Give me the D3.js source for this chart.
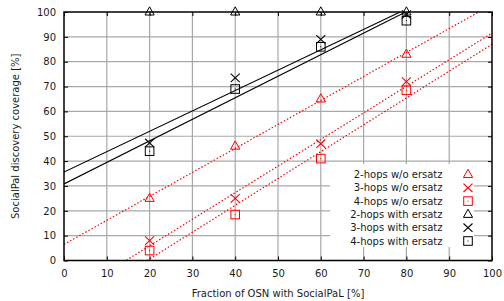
<!DOCTYPE html>
<html>
<head>
<meta charset="utf-8">
<script src="https://cdn.jsdelivr.net/npm/d3@7"></script>
<style>
body { margin:0; background:#fff; }
svg text { font-family:"DejaVu Sans", sans-serif; font-size:10px; fill:#1a1a1a; }
</style>
</head>
<body>
<svg id="chart"></svg>
<script>
// fraction of OSN with SocialPaL
var fractions = [20, 40, 60, 80];

// coverage [%] per series
var hops2NoErsatz = [25, 46, 65, 83];
var hops3NoErsatz = [8, 25, 47, 72];
var hops4NoErsatz = [4, 18.5, 41, 68.5];
var hops2Ersatz = [100, 100, 100, 100];
var hops3Ersatz = [47.3, 73.5, 89, 99];
var hops4Ersatz = [44, 69, 86, 96.5];

// fitted lines [intercept, slope]
var fit2NoErsatz = [6.5, 0.965];
var fit3NoErsatz = [-15.5, 1.07];
var fit4NoErsatz = [-21, 1.08];
var fit3Ersatz = [35.6, 0.82];
var fit4Ersatz = [30.8, 0.867];

var legendNames = ["2-hops w/o ersatz", "3-hops w/o ersatz", "4-hops w/o ersatz",
                   "2-hops with ersatz", "3-hops with ersatz", "4-hops with ersatz"];

var xTicks = [0, 10, 20, 30, 40, 50, 60, 70, 80, 90, 100];
var yTicks = [0, 10, 20, 30, 40, 50, 60, 70, 80, 90, 100];

var series = [
    {name:legendNames[0], values:hops2NoErsatz, marker:"tri", color:"#ff0000"},
    {name:legendNames[1], values:hops3NoErsatz, marker:"x", color:"#ff0000"},
    {name:legendNames[2], values:hops4NoErsatz, marker:"sq", color:"#ff0000"},
    {name:legendNames[3], values:hops2Ersatz, marker:"tri", color:"#000000"},
    {name:legendNames[4], values:hops3Ersatz, marker:"x", color:"#000000"},
    {name:legendNames[5], values:hops4Ersatz, marker:"sq", color:"#000000"}
];
var fits = [
    {p:fit2NoErsatz, color:"#ff0000", dash:"1.5,2"},
    {p:fit3NoErsatz, color:"#ff0000", dash:"1.5,2"},
    {p:fit4NoErsatz, color:"#ff0000", dash:"1.5,2"},
    {p:fit3Ersatz, color:"#000000", dash:null},
    {p:fit4Ersatz, color:"#000000", dash:null}
];

var screen = {width:504, height:301};
var margins = {left:64, right:12, top:12, bottom:40.5};
var graph = {
    width:screen.width - margins.left - margins.right,
    height:screen.height - margins.top - margins.bottom
};

var xScale = d3.scaleLinear().domain([0, 100]).range([0, graph.width]);
var yScale = d3.scaleLinear().domain([0, 100]).range([graph.height, 0]);

var svg = d3.select("#chart")
    .attr("width", screen.width)
    .attr("height", screen.height);

var plot = svg.append("g")
    .attr("transform", "translate(" + margins.left + "," + margins.top + ")");

plot.append("clipPath").attr("id", "clip")
    .append("rect")
    .attr("width", graph.width)
    .attr("height", graph.height);

// grid
plot.append("g").selectAll("line").data(xTicks.slice(1, -1)).enter().append("line")
    .attr("x1", function(d){ return xScale(d); })
    .attr("x2", function(d){ return xScale(d); })
    .attr("y1", 0).attr("y2", graph.height)
    .attr("stroke", "#a8a8a8").attr("stroke-width", 1.2);
plot.append("g").selectAll("line").data(yTicks.slice(1, -1)).enter().append("line")
    .attr("y1", function(d){ return yScale(d); })
    .attr("y2", function(d){ return yScale(d); })
    .attr("x1", 0).attr("x2", graph.width)
    .attr("stroke", "#a8a8a8").attr("stroke-width", 1.2);

// axes: ticks inward on all sides
var tickLen = 4;
var axisB = plot.append("g").attr("transform", "translate(0," + graph.height + ")")
    .call(d3.axisBottom(xScale).tickValues(xTicks).tickSizeInner(-tickLen).tickSizeOuter(0).tickPadding(9));
var axisT = plot.append("g")
    .call(d3.axisTop(xScale).tickValues(xTicks).tickSizeInner(-tickLen).tickSizeOuter(0).tickFormat(""));
var axisL = plot.append("g")
    .call(d3.axisLeft(yScale).tickValues(yTicks).tickSizeInner(-tickLen).tickSizeOuter(0).tickPadding(8));
var axisR = plot.append("g").attr("transform", "translate(" + graph.width + ",0)")
    .call(d3.axisRight(yScale).tickValues(yTicks).tickSizeInner(-tickLen).tickSizeOuter(0).tickFormat(""));
[axisB, axisT, axisL, axisR].forEach(function(a){
    a.select(".domain").remove();
    a.selectAll(".tick line").attr("stroke", "#000").attr("stroke-width", 1);
    a.selectAll("text").attr("font-family", null).attr("font-size", null).attr("fill", null);
});

// legend background hides the grid
var legend = {x:266, y:152, w:144, h:83, rowH:13.3, textX:378.5, markX:404};
plot.append("rect")
    .attr("x", legend.x).attr("y", legend.y)
    .attr("width", legend.w).attr("height", legend.h)
    .attr("fill", "#fff");

// fit lines
var fitLine = function(p){
    return d3.line()
        .x(function(d){ return xScale(d); })
        .y(function(d){ return yScale(p[0] + p[1] * d); })([0, 100]);
};
plot.append("g").attr("clip-path", "url(#clip)")
    .selectAll("path").data(fits).enter().append("path")
    .attr("d", function(d){ return fitLine(d.p); })
    .attr("fill", "none")
    .attr("stroke", function(d){ return d.color; })
    .attr("stroke-width", function(d){ return d.dash ? 1.2 : 1.1; })
    .attr("stroke-dasharray", function(d){ return d.dash; });

// border
plot.append("rect")
    .attr("width", graph.width).attr("height", graph.height)
    .attr("fill", "none").attr("stroke", "#000").attr("stroke-width", 1.5);

var drawMarker = function(g, type, color){
    if (type == "tri") {
        g.append("path").attr("d", "M0,-5.2L4.6,3L-4.6,3Z")
            .attr("fill", "none").attr("stroke", color).attr("stroke-width", 1);
    } else if (type == "x") {
        g.append("path").attr("d", "M-4.5,-4.2L4.5,4.2M-4.5,4.2L4.5,-4.2")
            .attr("fill", "none").attr("stroke", color).attr("stroke-width", 1.1);
    } else {
        g.append("rect").attr("x", -4.3).attr("y", -4.3).attr("width", 8.6).attr("height", 8.6)
            .attr("fill", "none").attr("stroke", color).attr("stroke-width", 1);
        g.append("rect").attr("x", -0.5).attr("y", -0.5).attr("width", 1).attr("height", 1)
            .attr("fill", color);
    }
};

// points
series.forEach(function(s){
    s.values.forEach(function(v, i){
        var g = plot.append("g")
            .attr("transform", "translate(" + xScale(fractions[i]) + "," + yScale(v) + ")");
        drawMarker(g, s.marker, s.color);
    });
});

// legend entries
series.forEach(function(s, i){
    var y = legend.y + 10.5 + i * legend.rowH;
    plot.append("text")
        .attr("x", legend.textX).attr("y", y + 3.5)
        .attr("text-anchor", "end")
        .text(s.name);
    var g = plot.append("g").attr("transform", "translate(" + legend.markX + "," + y + ")");
    drawMarker(g, s.marker, s.color);
});

// labels
svg.append("text")
    .attr("text-anchor", "middle")
    .attr("x", margins.left + graph.width / 2)
    .attr("y", 297)
    .text("Fraction of OSN with SocialPaL [%]");
svg.append("g")
    .attr("transform", "translate(19," + (margins.top + graph.height / 2) + ")")
    .append("text")
    .attr("text-anchor", "middle")
    .attr("transform", "rotate(-90)")
    .text("SocialPal discovery coverage [%]");
</script>
</body>
</html>
